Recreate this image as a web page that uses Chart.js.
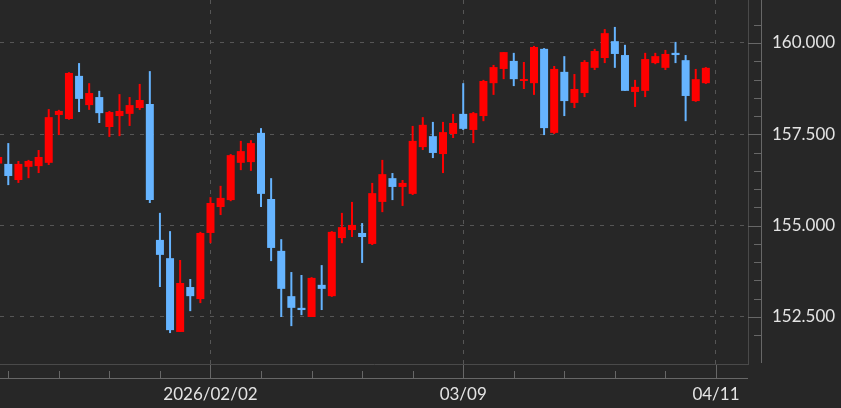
<!DOCTYPE html>
<html>
<head>
<meta charset="utf-8">
<script src="https://cdn.jsdelivr.net/npm/chart.js@4.4.1/dist/chart.umd.min.js"></script>
<style>
  html, body { margin: 0; padding: 0; background: #272727; }
  canvas { display: block; }
</style>
</head>
<body>
<canvas id="chartCandles" width="841" height="408"></canvas>
<script>
// DAILY CANDLES 2026/01/02 - 2026/04/10
var dates = [
    "2026/01/02", "2026/01/05", "2026/01/06", "2026/01/07", "2026/01/08", "2026/01/09",
    "2026/01/12", "2026/01/13", "2026/01/14", "2026/01/15", "2026/01/16",
    "2026/01/19", "2026/01/20", "2026/01/21", "2026/01/22", "2026/01/23",
    "2026/01/26", "2026/01/27", "2026/01/28", "2026/01/29", "2026/01/30",
    "2026/02/02", "2026/02/03", "2026/02/04", "2026/02/05", "2026/02/06",
    "2026/02/09", "2026/02/10", "2026/02/11", "2026/02/12", "2026/02/13",
    "2026/02/16", "2026/02/17", "2026/02/18", "2026/02/19", "2026/02/20",
    "2026/02/23", "2026/02/24", "2026/02/25", "2026/02/26", "2026/02/27",
    "2026/03/02", "2026/03/03", "2026/03/04", "2026/03/05", "2026/03/06",
    "2026/03/09", "2026/03/10", "2026/03/11", "2026/03/12", "2026/03/13",
    "2026/03/16", "2026/03/17", "2026/03/18", "2026/03/19", "2026/03/20",
    "2026/03/23", "2026/03/24", "2026/03/25", "2026/03/26", "2026/03/27",
    "2026/03/30", "2026/03/31", "2026/04/01", "2026/04/02", "2026/04/03",
    "2026/04/06", "2026/04/07", "2026/04/08", "2026/04/09", "2026/04/10"
];

var opens = [
    156.70, 156.69, 156.25, 156.61, 156.63, 156.72, 158.03, 157.92, 159.10, 158.30, 158.52,
    157.70, 158.00, 158.06, 158.22, 158.33, 154.61, 154.11, 152.09, 153.32, 152.99,
    154.80, 155.51, 155.70, 156.72, 156.74, 157.54, 155.73, 154.31, 153.07, 152.75,
    152.50, 153.38, 153.07, 154.66, 154.88, 154.80, 154.50, 155.65, 156.30, 156.06,
    155.87, 157.15, 157.45, 156.96, 157.51, 158.06, 157.62, 158.00, 158.90, 159.29,
    159.51, 158.96, 158.90, 159.84, 157.54, 159.21, 158.36, 158.63, 159.32, 159.59,
    160.05, 159.67, 158.66, 158.69, 159.45, 159.32, 159.73, 159.53, 158.41, 158.90
];
var highs = [
    156.95, 157.26, 156.77, 156.80, 157.07, 158.19, 158.17, 159.20, 159.45, 158.90, 158.69,
    158.14, 158.60, 158.52, 158.88, 159.23, 155.35, 154.85, 154.06, 153.54, 154.83,
    155.78, 156.09, 156.96, 157.32, 157.34, 157.67, 156.30, 154.63, 153.73, 153.65,
    153.59, 153.92, 154.85, 155.35, 155.65, 155.07, 156.17, 156.80, 156.44, 156.25,
    157.73, 157.97, 157.84, 157.84, 158.06, 158.90, 158.11, 158.99, 159.40, 159.75,
    159.73, 159.48, 159.92, 159.86, 159.37, 159.64, 159.15, 159.53, 159.84, 160.38,
    160.44, 159.95, 158.99, 159.73, 159.73, 159.81, 160.03, 159.67, 159.29, 159.34
];
var lows = [
    156.62, 156.11, 156.17, 156.30, 156.44, 156.66, 157.48, 157.90, 158.11, 158.17, 157.81,
    157.43, 157.45, 157.73, 158.17, 155.62, 153.32, 152.06, 152.09, 152.66, 152.88,
    154.52, 155.29, 155.67, 156.52, 156.50, 155.51, 154.03, 152.50, 152.25, 152.55,
    152.50, 152.69, 153.05, 154.52, 154.69, 153.98, 154.47, 155.37, 155.70, 155.54,
    155.84, 157.07, 156.85, 156.44, 157.40, 157.62, 157.26, 157.86, 158.58, 159.01,
    158.82, 158.74, 158.58, 157.48, 157.51, 158.00, 158.22, 158.52, 159.26, 159.45,
    159.32, 158.69, 158.25, 158.52, 159.42, 159.26, 159.45, 157.86, 158.39, 158.88
];
var closes = [
    156.88, 156.36, 156.69, 156.77, 156.88, 157.97, 158.14, 159.18, 158.47, 158.63, 158.08,
    158.11, 158.14, 158.30, 158.44, 155.70, 154.20, 152.14, 153.43, 153.07, 154.80,
    155.62, 155.76, 156.93, 157.04, 157.26, 155.87, 154.39, 153.27, 152.75, 152.69,
    153.57, 153.27, 154.83, 154.96, 155.02, 154.69, 155.89, 156.41, 156.06, 156.17,
    157.32, 157.76, 156.99, 157.56, 157.81, 157.65, 158.08, 158.96, 159.34, 159.75,
    159.01, 159.01, 159.89, 157.67, 159.29, 158.41, 158.74, 159.48, 159.78, 160.27,
    159.70, 158.69, 158.80, 159.56, 159.64, 159.70, 159.67, 158.55, 159.01, 159.32
];

// X AXIS TICKS (index into dates, 04/11 is one slot past the last candle)
var xTickAt = [21, 46, 71];
var xTickText = ["2026/02/02", "03/09", "04/11"];
var xMinorStep = 5;

// Y AXIS TICKS
var yLabelStep = 2.5;
var yMinorStep = 0.5;

var upColor = "#ff0000";
var downColor = "#66b4ff";
var gridColor = "#565656";
var frameColor = "#4a4a4a";
var axisColor = "#676767";
var textColor = "#e4e4e4";

var bodyData = [];
var wickData = [];
var candleColors = [];
for (var i = 0; i < dates.length; i++) {
    bodyData.push({ x: i, y: [opens[i], closes[i]] });
    wickData.push({ x: i, y: [lows[i], highs[i]] });
    candleColors.push(closes[i] >= opens[i] ? upColor : downColor);
}

function isMajorY(v) {
    var r = v / yLabelStep;
    return Math.abs(r - Math.round(r)) < 1e-6;
}

// AXIS LINES AND TICK MARKS (major ticks longer than minor ones)
var axisFrame = {
    id: "axisFrame",
    afterDraw: function(chart) {
        var ctx = chart.ctx;
        var a = chart.chartArea;
        var x = chart.scales.x;
        var y = chart.scales.y;

        ctx.save();
        ctx.lineWidth = 1;

        ctx.strokeStyle = frameColor;
        ctx.beginPath();
        ctx.moveTo(a.left, a.bottom + 0.5);
        ctx.lineTo(a.right + 1, a.bottom + 0.5);
        ctx.moveTo(a.right + 0.5, a.top);
        ctx.lineTo(a.right + 0.5, a.bottom);
        ctx.stroke();

        ctx.strokeStyle = axisColor;
        ctx.beginPath();
        ctx.moveTo(a.left, a.bottom + 14.5);
        ctx.lineTo(a.right, a.bottom + 14.5);
        ctx.moveTo(a.right + 13.5, a.top);
        ctx.lineTo(a.right + 13.5, a.bottom - 1);

        x.ticks.forEach(function(t) {
            var px = Math.round(x.getPixelForValue(t.value)) + 0.5;
            var major = xTickAt.indexOf(t.value) >= 0;
            ctx.moveTo(px, a.bottom + (major ? 1 : 7));
            ctx.lineTo(px, a.bottom + 14);
        });
        y.ticks.forEach(function(t) {
            var py = Math.round(y.getPixelForValue(t.value)) + 0.5;
            ctx.moveTo(a.right + (isMajorY(t.value) ? 0 : 6), py);
            ctx.lineTo(a.right + 13, py);
        });
        ctx.stroke();
        ctx.restore();
    }
};

Chart.defaults.font.family = "Lato";
Chart.defaults.font.size = 17;
Chart.defaults.color = textColor;

var ctx = document.getElementById("chartCandles").getContext("2d");
var candleChart = new Chart(ctx, {
    type: "bar",
    data: {
        datasets: [{
            label: "body",
            data: bodyData,
            backgroundColor: candleColors,
            barThickness: 8,
            minBarLength: 2,
            grouped: false,
            inflateAmount: 0,
            order: 0
        }, {
            label: "wick",
            data: wickData,
            backgroundColor: candleColors,
            barThickness: 2,
            grouped: false,
            inflateAmount: 0,
            order: 1
        }]
    },
    options: {
        responsive: false,
        animation: false,
        events: [],
        layout: { padding: 0 },
        plugins: {
            legend: { display: false },
            tooltip: { enabled: false }
        },
        scales: {
            x: {
                type: "linear",
                offset: false,
                min: 0.18,
                max: 74.17,
                grid: {
                    offset: false,
                    drawTicks: false,
                    color: function(c) {
                        return c.tick && xTickAt.indexOf(c.tick.value) >= 0 ? gridColor : "rgba(0,0,0,0)";
                    }
                },
                border: { display: false, dash: [4, 6] },
                afterBuildTicks: function(scale) {
                    var ticks = [];
                    for (var v = xTickAt[0] % xMinorStep; v <= scale.max; v += xMinorStep) {
                        if (v >= scale.min) ticks.push({ value: v });
                    }
                    scale.ticks = ticks;
                },
                afterFit: function(scale) {
                    scale.height = 44;
                    scale.paddingLeft = 0;
                    scale.paddingRight = 0;
                },
                ticks: {
                    autoSkip: false,
                    maxRotation: 0,
                    padding: 20,
                    callback: function(value) {
                        var k = xTickAt.indexOf(value);
                        return k >= 0 ? xTickText[k] : "";
                    }
                }
            },
            y: {
                position: "right",
                beginAtZero: false,
                min: 151.213,
                max: 161.177,
                grid: {
                    drawTicks: false,
                    color: function(c) {
                        return c.tick && isMajorY(c.tick.value) ? gridColor : "rgba(0,0,0,0)";
                    }
                },
                border: { display: false, dash: [4, 6] },
                afterBuildTicks: function(scale) {
                    scale.ticks = scale.ticks.filter(function(t) {
                        var r = t.value / yMinorStep;
                        return Math.abs(r - Math.round(r)) < 1e-6;
                    });
                },
                afterFit: function(scale) {
                    scale.width = 93;
                    scale.paddingTop = 0;
                    scale.paddingBottom = 0;
                },
                ticks: {
                    autoSkip: false,
                    stepSize: yMinorStep,
                    padding: 24,
                    callback: function(value) {
                        return isMajorY(value) ? value.toFixed(3) : "";
                    }
                }
            }
        }
    },
    plugins: [axisFrame]
});
</script>
</body>
</html>
